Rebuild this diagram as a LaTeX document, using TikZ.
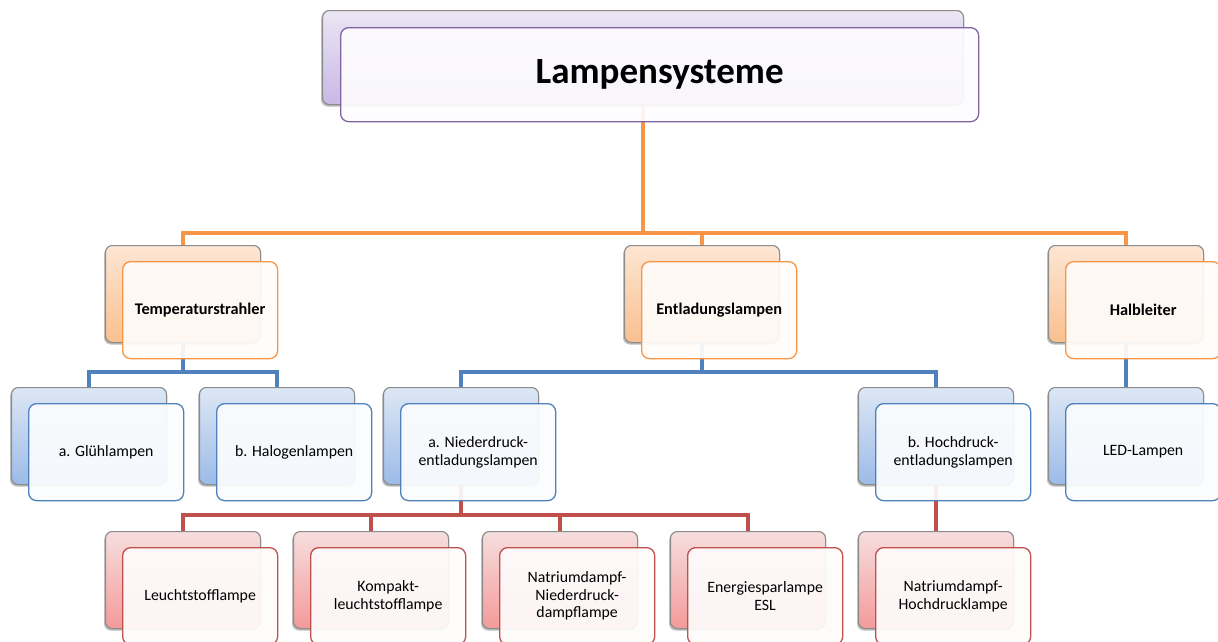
\documentclass[tikz,border=0pt]{standalone}
\usepackage{fontspec}
\setmainfont{Carlito}
\usetikzlibrary{shadows}
\definecolor{purB}{HTML}{8064A2}
\definecolor{purT}{HTML}{EBE6F4}
\definecolor{purD}{HTML}{C8B8E6}
\definecolor{orB}{HTML}{F79646}
\definecolor{orT}{HTML}{FDE6D4}
\definecolor{orD}{HTML}{FAC08E}
\definecolor{blB}{HTML}{4F81BD}
\definecolor{blT}{HTML}{DDE7F5}
\definecolor{blD}{HTML}{9CBBE8}
\definecolor{rdB}{HTML}{C0504D}
\definecolor{rdT}{HTML}{F6DEDE}
\definecolor{rdD}{HTML}{F49A9A}
\begin{document}
\begin{tikzpicture}[x=1pt,y=-1pt,
  back/.style={draw=black!45, line width=1pt, rounded corners=7pt, anchor=north west,
    minimum width=155pt, minimum height=97pt, inner sep=0pt,
    drop shadow={shadow xshift=-1.5pt,shadow yshift=-2pt,opacity=0.3}},
  front/.style={line width=1.3pt, rounded corners=8pt, anchor=north west,
    minimum width=155pt, minimum height=97pt, inner sep=0pt, fill opacity=0.93, text opacity=1,
    align=center, font=\fontsize{15.8}{17.5}\selectfont},
  pback/.style={back, top color=purT, bottom color=purD, minimum width=641pt, minimum height=94pt},
  pfront/.style={front, draw=purB, fill=purT!10!white, minimum width=638pt, minimum height=94pt,
    font=\fontsize{37}{40}\selectfont\bfseries},
  oback/.style={back, top color=orT, bottom color=orD},
  ofront/.style={front, draw=orB, fill=orT!12!white, font=\fontsize{16.3}{18}\selectfont\bfseries},
  bback/.style={back, top color=blT, bottom color=blD},
  bfront/.style={front, draw=blB, fill=blT!12!white},
  rback/.style={back, top color=rdT, bottom color=rdD},
  rfront/.style={front, draw=rdB, fill=rdT!12!white},
  oline/.style={draw=orB, line width=4pt},
  bline/.style={draw=blB, line width=4.5pt},
  rline/.style={draw=rdB, line width=4.5pt}
]
\clip (0,0) rectangle (1218,641);
\fill[white] (0,0) rectangle (1218,641);
% bus levels
\coordinate (busO) at (0,233);
\coordinate (busB) at (0,372);
\coordinate (busR) at (0,515);
% back boxes
\path
  (322,10) node[pback] (topb) {}
  (105,245) node[oback] (tempb) {}
  (624,245) node[oback] (entb) {}
  (1048,245) node[oback] (halbb) {}
  (11,387) node[bback] (glueb) {}
  (199,387) node[bback] (halob) {}
  (383,387) node[bback] (niedb) {}
  (858,387) node[bback] (hochb) {}
  (1048,387) node[bback] (ledb) {}
  (105,531) node[rback] (leub) {}
  (293,531) node[rback] (kompb) {}
  (482,531) node[rback] (nndb) {}
  (670,531) node[rback] (eslb) {}
  (858,531) node[rback] (nhdb) {};
% connectors
\draw[oline] (topb.south) -- (topb.south |- busO) -| (tempb.north);
\draw[oline] (topb.south |- busO) -| (entb.north);
\draw[oline] (topb.south |- busO) -| (halbb.north);
\draw[bline] (tempb.south) -- (tempb.south |- busB) -| (glueb.north);
\draw[bline] (tempb.south |- busB) -| (halob.north);
\draw[bline] (entb.south) -- (entb.south |- busB) -| (niedb.north);
\draw[bline] (entb.south |- busB) -| (hochb.north);
\draw[bline] (halbb.south) -- (ledb.north);
\draw[rline] (niedb.south) -- (niedb.south |- busR) -| (leub.north);
\draw[rline] (niedb.south |- busR) -| (kompb.north);
\draw[rline] (niedb.south |- busR) -| (nndb.north);
\draw[rline] (niedb.south |- busR) -| (eslb.north);
\draw[rline] (hochb.south) -- (nhdb.north);
% redraw back boxes over connector ends
\path
  (322,10) node[pback] {}
  (105,245) node[oback] {}
  (624,245) node[oback] {}
  (1048,245) node[oback] {}
  (11,387) node[bback] {}
  (199,387) node[bback] {}
  (383,387) node[bback] {}
  (858,387) node[bback] {}
  (1048,387) node[bback] {}
  (105,531) node[rback] {}
  (293,531) node[rback] {}
  (482,531) node[rback] {}
  (670,531) node[rback] {}
  (858,531) node[rback] {};
% front boxes
\node[pfront] (top) at (340,27) {Lampensysteme};
\node[ofront] (temp) at (122,261) {Temperaturstrahler};
\node[ofront] (ent) at (641,261) {Entladungslampen};
\node[ofront] (halb) at (1065,261) {Halbleiter};
\node[bfront] (glue) at (28,403) {a. Glühlampen};
\node[bfront] (halo) at (216,403) {b. Halogenlampen};
\node[bfront] (nied) at (400,403) {a. Niederdruck-\\entladungslampen};
\node[bfront] (hoch) at (875,403) {b. Hochdruck-\\entladungslampen};
\node[bfront] (led) at (1065,403) {LED-Lampen};
\node[rfront] (leu) at (122,547) {Leuchtstofflampe};
\node[rfront] (komp) at (310,547) {Kompakt-\\leuchtstofflampe};
\node[rfront] (nnd) at (499,547) {Natriumdampf-\\Niederdruck-\\dampflampe};
\node[rfront] (esl) at (687,547) {Energiesparlampe\\ESL};
\node[rfront] (nhd) at (875,547) {Natriumdampf-\\Hochdrucklampe};
\end{tikzpicture}
\end{document}
